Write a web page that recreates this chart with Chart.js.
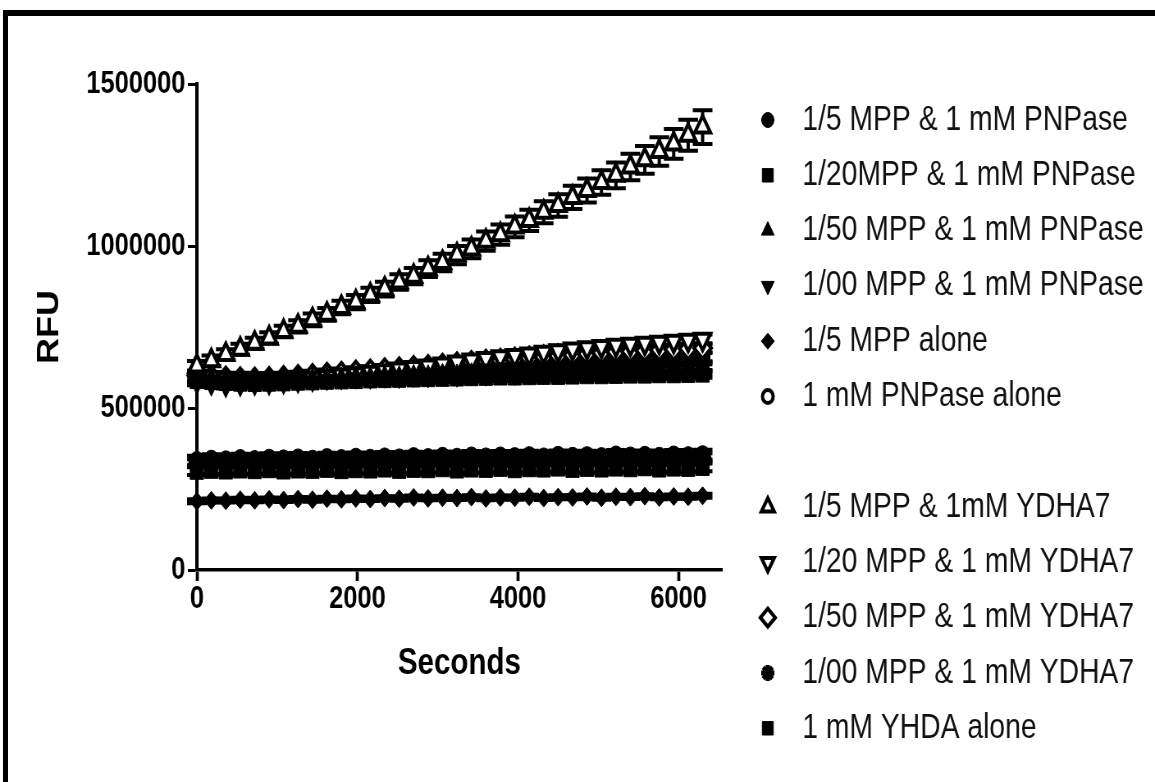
<!DOCTYPE html>
<html>
<head>
<meta charset="utf-8">
<title>RFU vs Seconds</title>
<script src="https://cdn.jsdelivr.net/npm/chart.js@4.4.1/dist/chart.umd.min.js"></script>
<style>
  html, body { margin: 0; padding: 0; background: #fff; overflow: hidden; }
  /* the original figure is squeezed horizontally, so the chart is drawn wide and scaled down */
  #wrap { position: absolute; left: 0; top: 0; width: 1408px; height: 782px; transform: scaleX(0.8203); transform-origin: 0 0; }
  #frameTop { position: absolute; left: 3px; top: 10px; width: 1152px; height: 6px; background: #000; }
  #frameLeft { position: absolute; left: 3px; top: 10px; width: 5px; height: 772px; background: #000; }
</style>
</head>
<body>
<div id="wrap"><canvas id="chart"></canvas></div>
<div id="frameTop"></div>
<div id="frameLeft"></div>
<script>
// time points (s)
const timeSec = [0, 180, 360, 540, 720, 900, 1080, 1260, 1440, 1620, 1800, 1980, 2160, 2340, 2520, 2700, 2880, 3060,
  3240, 3420, 3600, 3780, 3960, 4140, 4320, 4500, 4680, 4860, 5040, 5220, 5400, 5580, 5760, 5940, 6120, 6300];

// RFU readings
const pnp5 = [338000, 342000, 340000, 344000, 341000, 345000, 343000, 346000, 342000, 347000, 344000, 348000, 345000, 349000, 346000, 350000, 347000, 351000,
  348000, 352000, 349000, 352000, 350000, 353000, 349000, 354000, 351000, 353000, 350000, 355000, 352000, 354000, 351000, 355000, 353000, 356000];
const pnp20 = [305000, 308000, 306000, 309000, 307000, 310000, 306000, 309000, 308000, 311000, 307000, 310000, 309000, 312000, 308000, 311000, 310000, 313000,
  309000, 312000, 311000, 314000, 310000, 313000, 312000, 315000, 311000, 314000, 312000, 315000, 313000, 316000, 312000, 315000, 314000, 317000];
const pnp50 = [598000, 595000, 592000, 594000, 590000, 593000, 591000, 595000, 593000, 597000, 596000, 600000, 598000, 602000, 600000, 604000, 603000, 607000,
  605000, 609000, 607000, 611000, 610000, 614000, 612000, 616000, 615000, 619000, 617000, 621000, 620000, 624000, 622000, 626000, 625000, 629000];
const pnp100 = [590000, 585000, 580000, 582000, 578000, 580000, 582000, 584000, 583000, 587000, 586000, 589000, 588000, 592000, 590000, 594000, 593000, 597000,
  595000, 599000, 598000, 602000, 600000, 604000, 603000, 607000, 605000, 609000, 608000, 612000, 610000, 614000, 613000, 617000, 616000, 620000];
const mpp5 = [212000, 215000, 214000, 217000, 215000, 218000, 216000, 219000, 217000, 220000, 218000, 221000, 219000, 222000, 220000, 224000, 221000, 223000,
  222000, 225000, 221000, 224000, 223000, 226000, 222000, 225000, 224000, 227000, 223000, 226000, 225000, 228000, 224000, 227000, 226000, 229000];
const pnpAlone = [330000, 334000, 332000, 335000, 333000, 336000, 334000, 337000, 335000, 338000, 336000, 339000, 337000, 340000, 338000, 341000, 339000, 342000,
  340000, 343000, 341000, 343000, 342000, 344000, 341000, 345000, 343000, 344000, 342000, 346000, 344000, 345000, 343000, 347000, 345000, 348000];
const ydh5 = [630000, 646000, 665000, 681000, 700000, 716000, 736000, 752000, 772000, 789000, 810000, 827000, 849000, 867000, 889000, 907000, 930000, 949000,
  972000, 991000, 1015000, 1035000, 1059000, 1079000, 1104000, 1125000, 1150000, 1171000, 1196000, 1218000, 1244000, 1266000, 1292000, 1315000, 1342000, 1367000];
const ydh20 = [585000, 580000, 575000, 578000, 580000, 582000, 585000, 588000, 592000, 597000, 602000, 606000, 610000, 615000, 620000, 625000, 630000, 636000,
  642000, 648000, 653000, 658000, 662000, 667000, 672000, 677000, 682000, 686000, 690000, 694000, 697000, 700000, 703000, 706000, 709000, 712000];
const ydh50 = [600000, 596000, 592000, 590000, 589000, 591000, 594000, 597000, 600000, 604000, 607000, 611000, 614000, 618000, 621000, 625000, 628000, 632000,
  636000, 640000, 644000, 647000, 651000, 654000, 658000, 661000, 664000, 667000, 670000, 673000, 675000, 677000, 679000, 681000, 683000, 685000];
const ydh100 = [596000, 592000, 588000, 586000, 585000, 587000, 589000, 591000, 594000, 597000, 599000, 602000, 604000, 607000, 609000, 612000, 614000, 617000,
  619000, 622000, 624000, 627000, 629000, 632000, 634000, 637000, 639000, 641000, 643000, 645000, 647000, 649000, 651000, 653000, 655000, 657000];
const yhdaAlone = [585000, 582000, 579000, 577000, 576000, 577000, 578000, 580000, 581000, 583000, 584000, 585000, 587000, 588000, 589000, 590000, 591000, 592000,
  593000, 594000, 595000, 596000, 596000, 597000, 598000, 598000, 599000, 600000, 600000, 601000, 602000, 602000, 603000, 603000, 604000, 605000];

// error bars (SEM); the rising series has its own list, the rest one value each
const ydh5Err = [15000, 16000, 16000, 17000, 17000, 18000, 18000, 19000, 20000, 20000, 21000, 22000, 22000, 23000, 24000, 25000, 26000, 27000,
  28000, 29000, 30000, 31000, 32000, 33000, 34000, 35000, 36000, 37000, 38000, 40000, 41000, 43000, 44000, 46000, 48000, 52000];
const errPnp5 = 15000, errPnp20 = 12000, errPnp50 = 15000, errPnp100 = 15000, errMpp5 = 6000, errPnpAlone = 12000;
const errYdh20 = 15000, errYdh50 = 15000, errYdh100 = 15000, errYhda = 12000;

const yTicks = [0, 500000, 1000000, 1500000];
const xTicks = [0, 2000, 4000, 6000];

function pts(values) {
  return timeSec.map((t, i) => ({ x: t, y: values[i] }));
}

function series(label, values, err, style, opts) {
  const open = opts.open;
  return {
    label: label,
    data: pts(values),
    err: err,
    showLine: false,
    clip: false,
    order: opts.order || 0,
    pointStyle: style,
    pointRotation: opts.rot || 0,
    pointRadius: opts.r,
    pointBorderWidth: opts.lw || 1,
    pointBackgroundColor: open ? '#fff' : '#000',
    pointBorderColor: '#000',
    legendR: opts.lr,
    legendLw: opts.llw || 1
  };
}

const datasets = [
  series('1/5 MPP & 1 mM PNPase', pnp5, errPnp5, 'circle', { r: 9, lr: 7.5 }),
  series('1/20MPP & 1 mM PNPase', pnp20, errPnp20, 'rect', { r: 11.5, lr: 9.5 }),
  series('1/50 MPP & 1 mM PNPase', pnp50, errPnp50, 'triangle', { r: 10, lr: 9 }),
  series('1/00 MPP & 1 mM PNPase', pnp100, errPnp100, 'triangle', { r: 10, rot: 180, lr: 9 }),
  series('1/5 MPP alone', mpp5, errMpp5, 'rectRot', { r: 9, lr: 8 }),
  series('1 mM PNPase alone', pnpAlone, errPnpAlone, 'circle', { r: 8.5, lw: 4, open: true, lr: 6.5, llw: 4 }),
  series('1/5 MPP & 1mM YDHA7', ydh5, ydh5Err, 'triangle', { r: 11, lw: 4, open: true, order: -1, lr: 9, llw: 4 }),
  series('1/20 MPP & 1 mM YDHA7', ydh20, errYdh20, 'triangle', { r: 11, rot: 180, lw: 4, open: true, lr: 9, llw: 4 }),
  series('1/50 MPP & 1 mM YDHA7', ydh50, errYdh50, 'rectRot', { r: 10.5, lw: 4, open: true, lr: 9, llw: 4 }),
  series('1/00 MPP & 1 mM YDHA7', ydh100, errYdh100, 'star', { r: 9.5, lw: 5, lr: 8, llw: 5 }),
  series('1 mM YHDA alone', yhdaAlone, errYhda, 'rect', { r: 11.5, lr: 9.5 })
];

// vertical error bars with caps, drawn under the markers
const errorBars = {
  id: 'errorBars',
  beforeDatasetsDraw(chart) {
    const ctx = chart.ctx;
    const xs = chart.scales.x, ys = chart.scales.y;
    ctx.save();
    ctx.strokeStyle = '#000';
    ctx.lineWidth = 4;
    chart.data.datasets.forEach(ds => {
      ds.data.forEach((p, i) => {
        const e = Array.isArray(ds.err) ? ds.err[i] : ds.err;
        const x = xs.getPixelForValue(p.x);
        const y1 = ys.getPixelForValue(p.y + e);
        const y2 = ys.getPixelForValue(p.y - e);
        ctx.beginPath();
        ctx.moveTo(x, y1); ctx.lineTo(x, y2);
        ctx.moveTo(x - 12, y1); ctx.lineTo(x + 12, y1);
        ctx.moveTo(x - 12, y2); ctx.lineTo(x + 12, y2);
        ctx.stroke();
      });
    });
    ctx.restore();
  }
};

// legend on the right, with the blank row between the two groups
const legendTop = 120, legendStep = 55.3, legendMarkX = 936, legendTextX = 978;
const sideLegend = {
  id: 'sideLegend',
  afterDraw(chart) {
    const ctx = chart.ctx;
    const rows = chart.data.datasets.slice(0, 6).concat([null], chart.data.datasets.slice(6));
    ctx.save();
    rows.forEach((ds, k) => {
      if (!ds) return;
      const y = legendTop + k * legendStep;
      ctx.fillStyle = ds.pointBackgroundColor;
      ctx.strokeStyle = '#000';
      ctx.lineWidth = ds.legendLw;
      Chart.helpers.drawPoint(ctx, {
        pointStyle: ds.pointStyle, rotation: ds.pointRotation,
        radius: ds.legendR, borderWidth: ds.legendLw
      }, legendMarkX, y);
      ctx.fillStyle = '#111';
      ctx.font = '34.5px "Liberation Sans", Arial, sans-serif';
      ctx.textBaseline = 'middle';
      ctx.textAlign = 'left';
      ctx.fillText(ds.label, legendTextX, y);
    });
    ctx.restore();
  }
};

Chart.defaults.font.family = '"Liberation Sans", Arial, sans-serif';
Chart.defaults.color = '#000';

const ctx = document.getElementById('chart').getContext('2d');
const myChart = new Chart(ctx, {
  type: 'scatter',
  data: { datasets: datasets },
  plugins: [errorBars, sideLegend],
  options: {
    responsive: true,
    maintainAspectRatio: false,
    animation: false,
    events: [],
    layout: { padding: { left: 0, top: 84, right: 528, bottom: 0 } },
    plugins: { legend: { display: false }, tooltip: { enabled: false } },
    scales: {
      x: {
        type: 'linear',
        min: 0,
        max: 6540,
        afterFit: s => { s.height = 212; },
        afterBuildTicks: s => { s.ticks = xTicks.map(v => ({ value: v })); },
        ticks: { font: { size: 31, weight: 'bold' }, padding: 0, callback: v => String(v) },
        grid: { drawOnChartArea: false, drawTicks: true, tickLength: 11, tickWidth: 3.7, color: '#000' },
        border: { display: true, color: '#000', width: 3.5 },
        title: { display: true, text: 'Seconds', font: { size: 36, weight: 'bold' }, padding: { top: 0, bottom: 96 } }
      },
      y: {
        min: 0,
        max: 1500000,
        afterFit: s => { s.width = 240; },
        afterBuildTicks: s => { s.ticks = yTicks.map(v => ({ value: v })); },
        ticks: { font: { size: 31, weight: 'bold' }, padding: 3, callback: v => String(v) },
        grid: { drawOnChartArea: false, drawTicks: true, tickLength: 11, tickWidth: 3, color: '#000' },
        border: { display: true, color: '#000', width: 4 },
        title: { display: true, text: 'RFU', font: { size: 36, weight: 'bold' }, padding: { top: 39, bottom: 0 } }
      }
    }
  }
});
</script>
</body>
</html>
